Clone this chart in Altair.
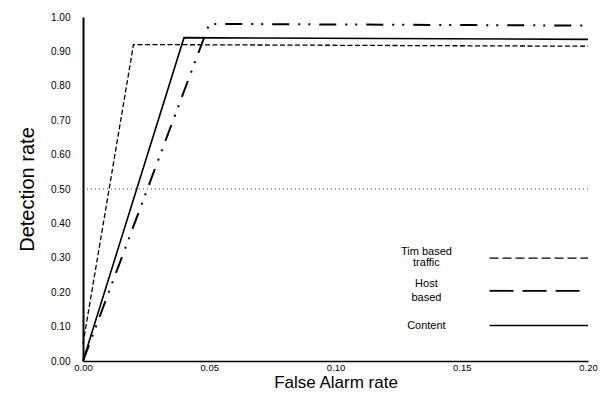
import altair as alt
import pandas as pd

# ---- data ----
series_names = ["Tim based traffic", "Host based", "Content"]

fa_tim = [0.0, 0.02, 0.20]
dr_tim = [0.05, 0.92, 0.915]

fa_host = [0.0, 0.05, 0.20]
dr_host = [0.0, 0.98, 0.975]

fa_content = [0.0, 0.04, 0.20]
dr_content = [0.0, 0.94, 0.935]

reference_rate = [0.5]

x_ticks = [0.0, 0.05, 0.10, 0.15, 0.20]
y_ticks = [round(i * 0.1, 1) for i in range(11)]

# legend (drawn inside the plot, in data units)
legend_labels = ["Tim based", "traffic", "Host", "based", "Content"]
legend_label_y = [0.316, 0.284, 0.224, 0.184, 0.103]
legend_label_x = [0.136] * 5
legend_line_series = series_names
legend_line_y = [0.299, 0.204, 0.103]
legend_line_x1 = [0.161] * 3
legend_line_x2 = [0.200] * 3

FONT = "Liberation Sans"

xs = alt.Scale(domain=[0, 0.2], nice=False, zero=False)
ys = alt.Scale(domain=[0, 1], nice=False)

x_axis = alt.Axis(values=x_ticks, format=".2f", title="False Alarm rate",
                  titleFontSize=17, titleFontWeight="normal", titleFont=FONT,
                  titleBaseline="alphabetic", titleY=26,
                  labelFont=FONT, labelFontSize=9.5, labelPadding=1,
                  domainWidth=1.5, domainColor="black",
                  ticks=False, grid=False, labelFlush=False, labelColor="black",
                  titleColor="black")
y_axis = alt.Axis(values=y_ticks, format=".2f", title="Detection rate",
                  titleFontSize=20, titleFontWeight="normal", titleFont=FONT,
                  labelFont=FONT, labelFontSize=10, labelPadding=13,
                  titlePadding=13, domainWidth=2, domainColor="black",
                  ticks=False, grid=False, labelFlush=False, labelColor="black",
                  titleColor="black")

def line_df(fa, dr, name):
    return pd.DataFrame({"fa": fa, "dr": dr, "series": name,
                         "order": list(range(len(fa)))})

df_tim = line_df(fa_tim, dr_tim, series_names[0])
df_host = line_df(fa_host, dr_host, series_names[1])
df_content = line_df(fa_content, dr_content, series_names[2])

def line_layer(df, dash, width):
    kw = dict(color="black", strokeWidth=width)
    if dash:
        kw["strokeDash"] = dash
    return alt.Chart(df).mark_line(**kw).encode(
        x=alt.X("fa:Q", scale=xs, axis=x_axis),
        y=alt.Y("dr:Q", scale=ys, axis=y_axis),
        order="order:Q",
    )

ref = alt.Chart(pd.DataFrame({"r": reference_rate})).mark_rule(
    color="#444", strokeWidth=1, strokeDash=[1, 3]
).encode(y=alt.Y("r:Q", scale=ys, axis=y_axis))

l_tim = line_layer(df_tim, [5, 2.5], 1.3)
l_host = line_layer(df_host, [17, 9, 2, 8, 2, 9], 2)
l_content = line_layer(df_content, None, 1.6)

legend_text = alt.Chart(pd.DataFrame({
    "label": legend_labels, "x": legend_label_x, "y": legend_label_y
})).mark_text(font=FONT, fontSize=11, align="center", baseline="middle",
              color="black").encode(
    x=alt.X("x:Q", scale=xs, axis=x_axis),
    y=alt.Y("y:Q", scale=ys, axis=y_axis),
    text="label:N",
)

leg_df = pd.DataFrame({"series": legend_line_series, "y": legend_line_y,
                       "x1": legend_line_x1, "x2": legend_line_x2})
leg_dashes = {series_names[0]: [9, 4], series_names[1]: [24, 9],
              series_names[2]: None}
leg_widths = {series_names[0]: 1.3, series_names[1]: 1.8, series_names[2]: 1.4}

legend_lines = []
for name in series_names:
    kw = dict(color="black", strokeWidth=leg_widths[name])
    if leg_dashes[name]:
        kw["strokeDash"] = leg_dashes[name]
    legend_lines.append(
        alt.Chart(leg_df[leg_df["series"] == name]).mark_rule(**kw).encode(
            x=alt.X("x1:Q", scale=xs, axis=x_axis),
            x2="x2:Q",
            y=alt.Y("y:Q", scale=ys, axis=y_axis),
        )
    )

chart = alt.layer(ref, l_tim, l_content, l_host, legend_text, *legend_lines).properties(
    width=505, height=344,
    autosize=alt.AutoSizeParams(type="none"),
    padding={"left": 75, "top": 9, "right": 10, "bottom": 30},
    background="white",
).configure_view(stroke=None)

chart.save("out.html", embed_options={"renderer": "svg", "actions": False})
